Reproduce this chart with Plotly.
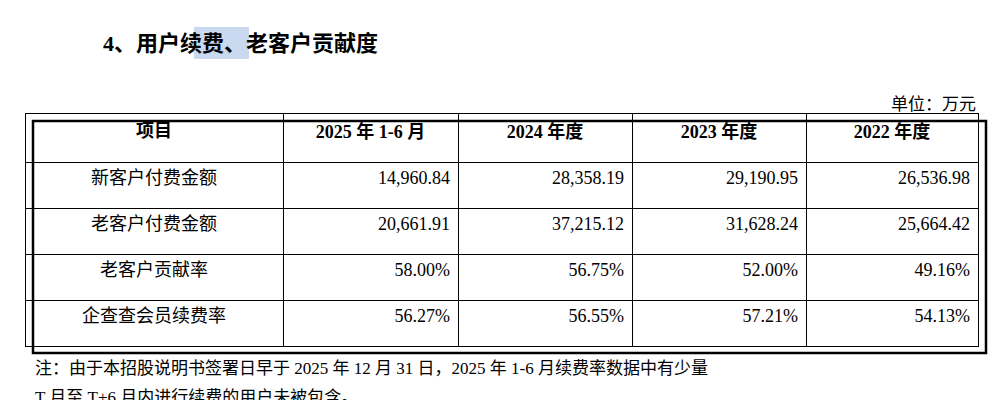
import plotly.graph_objects as go

# table data
headers = ["项目", "2025 年 1-6 月", "2024 年度", "2023 年度", "2022 年度"]
items = ["新客户付费金额", "老客户付费金额", "老客户贡献率", "企查查会员续费率"]
col_2025h1 = ["14,960.84", "20,661.91", "58.00%", "56.27%"]
col_2024 = ["28,358.19", "37,215.12", "56.75%", "56.55%"]
col_2023 = ["29,190.95", "31,628.24", "52.00%", "57.21%"]
col_2022 = ["26,536.98", "25,664.42", "49.16%", "54.13%"]

title = "4、用户续费、老客户贡献度"
unit = "单位：万元"
note1 = "注：由于本招股说明书签署日早于 2025 年 12 月 31 日，2025 年 1-6 月续费率数据中有少量"
note2 = "T 月至 T+6 月内进行续费的用户未被包含。"

W, H = 1004, 400
font = "Liberation Serif, Noto Sans CJK SC, serif"


def px(x, y):
    # pixel position -> paper fractions
    return x / W, 1 - y / H


x0, x1, y0 = 17, 970, 105

fig = go.Figure(go.Table(
    domain=dict(x=[x0 / W, x1 / W], y=[0, 1 - y0 / H]),
    columnwidth=[258, 175, 174, 174, 172],
    header=dict(
        values=["<b>%s</b>" % h for h in headers],
        align="center", height=49,
        line=dict(color="black", width=1), fill=dict(color="white"),
        font=dict(family=font, size=18, color="black"),
    ),
    cells=dict(
        values=[items, col_2025h1, col_2024, col_2023, col_2022],
        align=["center", "right", "right", "right", "right"],
        height=46,
        line=dict(color="black", width=1), fill=dict(color="white"),
        font=dict(family=font, size=18, color="black"),
    ),
))

fig.update_layout(
    width=W, height=H, margin=dict(l=0, r=0, t=0, b=0),
    paper_bgcolor="white", plot_bgcolor="white",
    showlegend=False,
)

# outer thick border and selection highlight on title
bx0, by0 = px(25, 113)
bx1, by1 = px(978, 345)
fig.add_shape(type="rect", xref="paper", yref="paper", x0=bx0, x1=bx1, y0=by1, y1=by0,
              line=dict(color="black", width=2.5), layer="above")
hx0, hy0 = px(186, 19)
hx1, hy1 = px(241, 51)
fig.add_shape(type="rect", xref="paper", yref="paper", x0=hx0, x1=hx1, y0=hy1, y1=hy0,
              fillcolor="#c9daf0", line=dict(width=0), layer="below")


def label(x, y, text, size, anchor="left"):
    ax, ay = px(x, y)
    fig.add_annotation(x=ax, y=ay, xref="paper", yref="paper", text=text,
                       showarrow=False, xanchor=anchor, yanchor="middle",
                       font=dict(family=font, size=size, color="black"))


label(93, 35, "<b>%s</b>" % title, 22)
label(970, 97, unit, 17, "right")
label(25, 360, note1, 17)
label(25, 389, note2, 17)

fig.write_html("out.html")
